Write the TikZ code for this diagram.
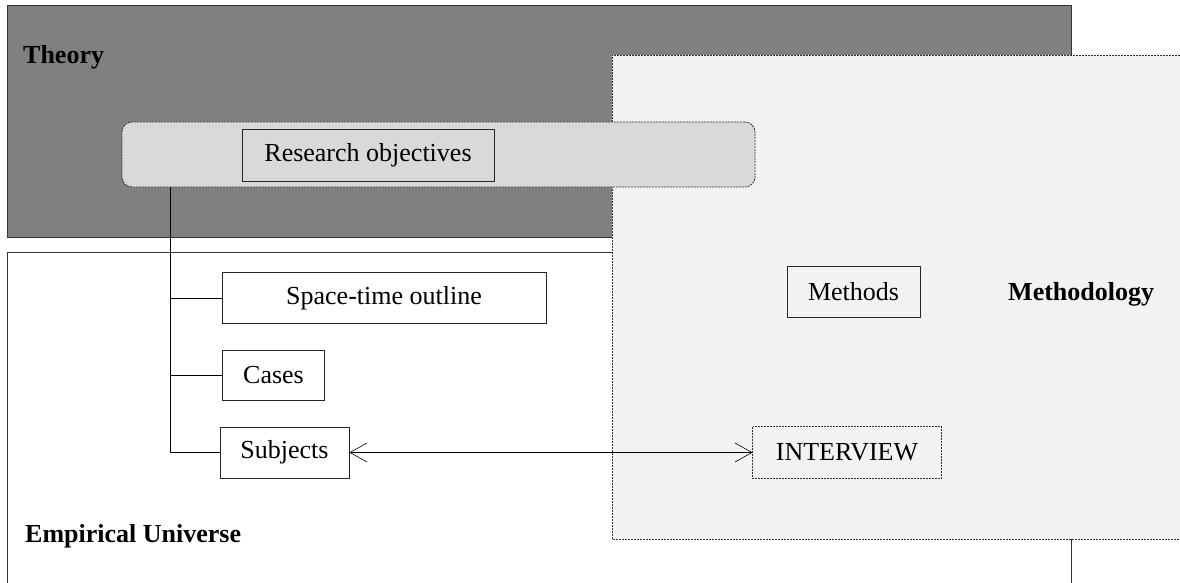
\documentclass[tikz,border=0pt]{standalone}
\usepackage{fontspec}
\setmainfont{Liberation Serif}
\usetikzlibrary{arrows.meta}
\definecolor{theorygray}{HTML}{808080}
\definecolor{methgray}{HTML}{F2F2F2}
\definecolor{objgray}{HTML}{D9D9D9}
\tikzset{
  dotline/.style={dash pattern=on 2pt off 1pt, line width=0.8pt, draw=black!80},
  box/.style={draw=black!85, line width=0.8pt, inner sep=0pt, align=center,
    font=\fontsize{26}{30}\selectfont},
  lbl/.style={font=\fontsize{26}{30}\selectfont\bfseries, inner sep=0pt, anchor=base west},
  conn/.style={line width=0.8pt, draw=black},
  barb/.style={{Straight Barb[length=17pt,width=19pt,line width=0.6pt]}-{Straight Barb[length=17pt,width=19pt,line width=0.6pt]}}
}
\begin{document}
\begin{tikzpicture}[x=1pt,y=-1pt]
\useasboundingbox (0,0) rectangle (1180,583);
% Theory
\fill[white] (0,0) rectangle (1180,583);
\filldraw[fill=theorygray, draw=black!80, line width=0.8pt] (7,5) rectangle (1071,237);
% Empirical universe
\filldraw[fill=white, draw=black!80, line width=0.8pt] (7,583) -- (7,252) -- (1071,252) -- (1071,583);
% Methodology
\fill[methgray] (612,55) rectangle (1180,539);
\draw[dotline] (1180,55) -- (612,55) -- (612,539) -- (1180,539);
\draw[line width=0.8pt, draw=black!80] (1071,539) -- (1071,583);
% labels
\node[lbl] (theory) at (23,64) {Theory};
\node[lbl] (meth) at (1008,300) {Methodology};
\node[lbl] (emp) at (25,542) {Empirical Universe};
% objectives container
\node[draw=black!80, dash pattern=on 2pt off 1pt, line width=0.8pt, fill=objgray,
  rounded corners=10pt, minimum width=633pt, minimum height=65pt, inner sep=0pt]
  (cont) at (438.5,154.5) {};
\node[box, fill=objgray, minimum width=252pt, minimum height=52pt] (ro) at (368,155) {Research objectives};
% boxes
\node[box, fill=white, minimum width=324pt, minimum height=51pt] (st) at (384,298) {Space-time outline};
\node[box, fill=white, minimum width=102pt, minimum height=50pt] (cases) at (273.5,375) {Cases};
\node[box, fill=white, minimum width=129pt, minimum height=51pt] (subj) at (284.5,452.5) {Subjects};
\node[box, fill=methgray, minimum width=133pt, minimum height=51pt] (methods) at (853.5,291.5) {Methods};
\node[box, draw=none, fill=methgray, minimum width=188pt, minimum height=51pt] (intv) at (847,452.5) {INTERVIEW};
\draw[dotline] (intv.north west) rectangle (intv.south east);
% connectors
\coordinate (tr) at (170,0);
\draw[conn] (cont.south -| tr) |- (subj.west);
\draw[conn] (tr |- st.west) -- (st.west);
\draw[conn] (tr |- cases.west) -- (cases.west);
\draw[conn, barb] (subj.east) -- (intv.west);
\end{tikzpicture}
\end{document}
